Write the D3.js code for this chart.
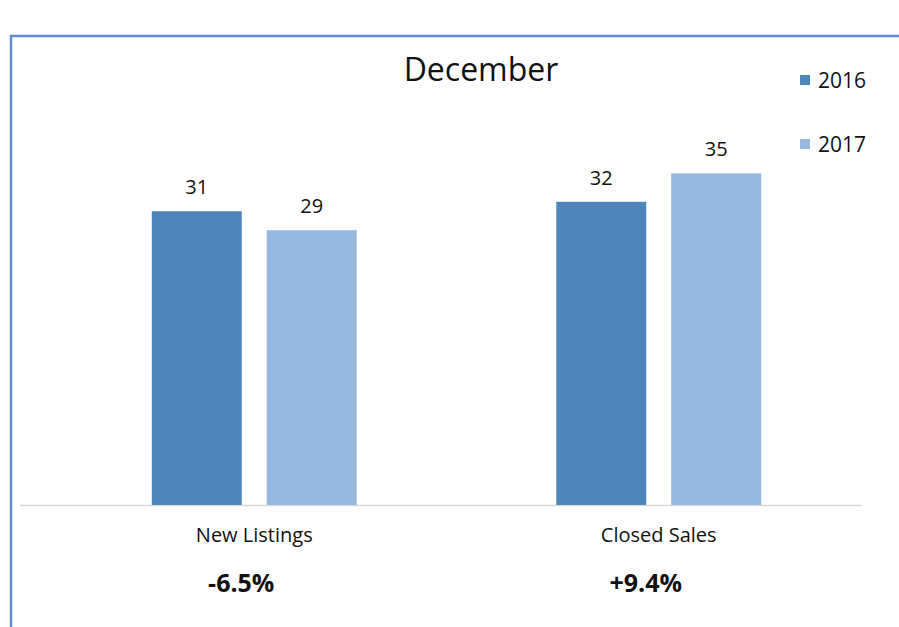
<!DOCTYPE html>
<html>
<head>
<meta charset="utf-8">
<script src="https://cdn.jsdelivr.net/npm/d3@7"></script>
<style>
body { margin: 0; background: #fff; }
svg text { font-family: "Open Sans", "Noto Sans", sans-serif; fill: #111; }
</style>
</head>
<body>
<svg id="chart" width="899" height="627"></svg>
<script>
// chart data
const categories = ["New Listings", "Closed Sales"];
const years = ["2016", "2017"];
const values2016 = [31, 32];
const values2017 = [29, 35];
const changes = ["-6.5%", "+9.4%"];
const colors = ["#4f86b9", "#97b8df"];

const svg = d3.select("#chart");

// frame (runs off the bottom/right of the window)
svg.append("rect")
    .attr("x", 11).attr("y", 36)
    .attr("width", 900).attr("height", 700)
    .attr("fill", "#fff")
    .attr("stroke", "#5b8ed6")
    .attr("stroke-width", 2.5);

const baseY = 505;
const y = d3.scaleLinear().domain([0, 40]).range([baseY, 126]);
const x = d3.scaleBand().domain(categories).range([52, 861]);
const xInner = d3.scaleBand().domain(years)
    .range([0, x.bandwidth()])
    .paddingInner(0.217)
    .paddingOuter(0.868);

const rows = categories.map((c, i) => ({
    cat: c,
    change: changes[i],
    vals: [values2016[i], values2017[i]]
}));

// baseline
svg.append("line")
    .attr("x1", 20).attr("x2", 862)
    .attr("y1", baseY + 0.5).attr("y2", baseY + 0.5)
    .attr("stroke", "#d9d9d9")
    .attr("stroke-width", 1.5);

const g = svg.selectAll("g.cat").data(rows).enter()
    .append("g").attr("class", "cat")
    .attr("transform", d => `translate(${x(d.cat)},0)`);

g.selectAll("rect").data(d => d.vals.map((v, j) => ({ v, year: years[j], j })))
    .enter().append("rect")
    .attr("x", d => xInner(d.year))
    .attr("width", xInner.bandwidth())
    .attr("y", d => y(d.v))
    .attr("height", d => baseY - y(d.v))
    .attr("fill", d => colors[d.j]);

g.selectAll("text.val").data(d => d.vals.map((v, j) => ({ v, year: years[j] })))
    .enter().append("text")
    .attr("class", "val")
    .attr("x", d => xInner(d.year) + xInner.bandwidth() / 2)
    .attr("y", d => y(d.v) - 17)
    .attr("text-anchor", "middle")
    .attr("font-size", 20)
    .text(d => d.v);

g.append("text")
    .attr("x", x.bandwidth() / 2)
    .attr("y", 542)
    .attr("text-anchor", "middle")
    .attr("font-size", 20)
    .text(d => d.cat);

g.append("text")
    .attr("x", x.bandwidth() / 2 - 13)
    .attr("y", 592)
    .attr("text-anchor", "middle")
    .attr("font-size", 25)
    .attr("font-weight", "bold")
    .text(d => d.change);

// title
svg.append("text")
    .attr("x", 481).attr("y", 81)
    .attr("text-anchor", "middle")
    .attr("font-size", 32)
    .text("December");

// legend
const leg = svg.selectAll("g.leg").data(years).enter()
    .append("g").attr("class", "leg")
    .attr("transform", (d, i) => `translate(800,${75 + i * 64})`);
leg.append("rect")
    .attr("width", 10).attr("height", 10)
    .attr("fill", (d, i) => colors[i]);
leg.append("text")
    .attr("x", 18).attr("y", 13)
    .attr("font-size", 21)
    .text(d => d);
</script>
</body>
</html>
